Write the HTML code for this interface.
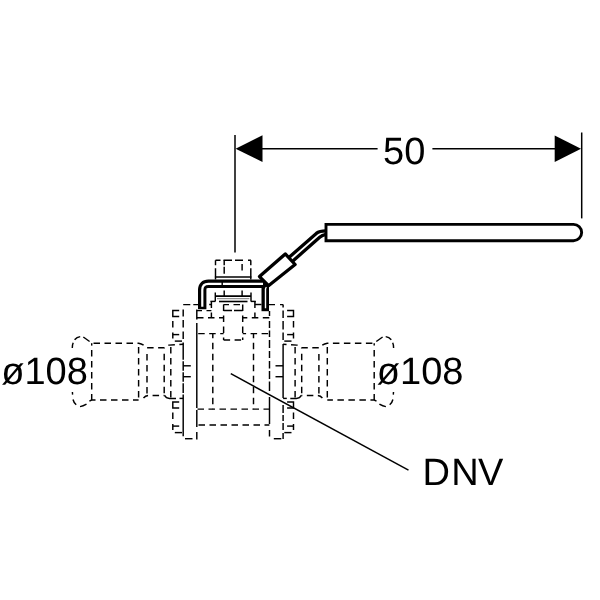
<!DOCTYPE html>
<html lang="en">
<head>
<meta charset="utf-8">
<title>DNV 50 ø108</title>
<style>
html,body{margin:0;padding:0;background:#fff;}
body{width:600px;height:600px;overflow:hidden;position:relative;font-family:"Liberation Sans",sans-serif;}
svg{position:absolute;left:0;top:0;display:block;will-change:transform;}
.d{stroke:#000;stroke-width:1.45;fill:none;stroke-dasharray:6.5 4.5;}
.s{stroke:#000;stroke-width:1.45;fill:none;}
.t{stroke:#000;stroke-width:1.5;fill:none;}
.h{stroke:#000;stroke-width:2.9;fill:#fff;stroke-linejoin:miter;}
text{font-family:"Liberation Sans",sans-serif;font-size:38px;fill:#000;text-rendering:geometricPrecision;}
</style>
</head>
<body>
<svg width="600" height="600" viewBox="0 0 600 600">
<rect x="0" y="0" width="600" height="600" fill="#fff"/>
<!-- dashed valve body -->
<path class="s" d="M72.3 348 Q72.2 345 73.2 342.8"/>
<path class="s" d="M74.6 339.8 Q76.8 337 80.2 336.6"/>
<path class="s" d="M83.3 337 L89.6 341.5"/>
<path class="s" d="M72.4 392 L72.6 394.6"/>
<path class="s" d="M73 399.5 Q73.8 402.8 76.2 404.8"/>
<path class="s" d="M80 406.6 Q83 406.4 86.5 404.2"/>
<path class="s" d="M89.4 401.2 L91.6 400 L95 400"/>
<path class="d" d="M91.6 343.2 L138.6 343.2 Q143.4 344 146.6 347.8 L164.4 347.8 Q166 345.6 169 345.1 L183.2 344.2" stroke-dashoffset="9.1"/>
<path class="d" d="M95 400 L138.6 400" stroke-dashoffset="6.0"/>
<path class="d" d="M143.5 398 Q145.5 395.6 148.5 395.5 L164.4 395.5" stroke-dashoffset="1.2"/>
<path class="s" d="M164.5 395.3 Q166 398.4 169.5 398.4 L176 398.4"/>
<line class="s" x1="179.5" y1="398.4" x2="183.2" y2="398.4"/>
<path class="s" d="M91.7 343.2 L91.7 345.6"/>
<line class="d" x1="91.7" y1="345.6" x2="91.7" y2="400" stroke-dashoffset="6.6"/>
<line class="d" x1="138.6" y1="343.2" x2="138.6" y2="398" stroke-dashoffset="7.2"/>
<line class="d" x1="147" y1="352" x2="147" y2="394" stroke-dashoffset="9.0"/>
<line class="d" x1="164.2" y1="352" x2="164.2" y2="394" stroke-dashoffset="9.2"/>
<line class="d" x1="170.8" y1="345" x2="170.8" y2="398.4" stroke-dashoffset="9.0"/>
<path class="s" d="M179.2 310.5 L172.8 310.5 L172.8 316.5 L179.2 316.5"/>
<path class="s" d="M172.8 321 L172.8 327.5 M172.8 332.5 L172.8 338.5"/>
<line class="s" x1="172.8" y1="334.6" x2="179.2" y2="334.6"/>
<line class="s" x1="174.8" y1="341.1" x2="182" y2="341.1"/>
<path class="s" d="M179.2 402.0 L172.8 402.0 L172.8 408.0 L179.2 408.0"/>
<path class="s" d="M172.8 412.5 L172.8 419.0 M172.8 424.0 L172.8 430.0"/>
<line class="s" x1="172.8" y1="426.1" x2="179.2" y2="426.1"/>
<line class="s" x1="174.8" y1="432.6" x2="182" y2="432.6"/>
<line class="s" x1="183.2" y1="365.8" x2="190.8" y2="365.8"/>
<line class="s" x1="183.2" y1="376.7" x2="190.8" y2="376.7"/>
<line class="s" x1="185" y1="438.7" x2="192.5" y2="438.7"/>
<line class="d" x1="211.4" y1="301.5" x2="211.4" y2="317.5" stroke-dashoffset="0.0"/>
<line class="d" x1="197" y1="310.6" x2="211.4" y2="310.6" stroke-dashoffset="1.5"/>
<line class="d" x1="197" y1="317.8" x2="223.6" y2="317.8" stroke-dashoffset="0.0"/>
<line class="d" x1="197" y1="333.6" x2="223.6" y2="333.6" stroke-dashoffset="9.8"/>
<line class="d" x1="223.6" y1="304.6" x2="223.6" y2="340" stroke-dashoffset="0.0"/>
<line class="d" x1="212.8" y1="333.6" x2="212.8" y2="409.2" stroke-dashoffset="1.9"/>
<line class="s" x1="209.2" y1="304.5" x2="211.4" y2="304.5"/>
<line class="s" x1="210.4" y1="301.4" x2="215.4" y2="301.4"/>
<path class="s" d="M215.5 260.3 L215.5 265.3 M215.5 268.3 L215.5 279.5"/>
<path class="s" d="M224.2 260.3 L224.2 265.3 M224.2 266.8 L224.2 273.8"/>
<line class="s" x1="215.3" y1="292.5" x2="215.3" y2="301.4"/>
<line class="s" x1="224.2" y1="290.5" x2="224.2" y2="296"/>
<path class="s" d="M393.6 348 Q393.7 345 392.7 342.8"/>
<path class="s" d="M391.3 339.8 Q389.1 337 385.7 336.6"/>
<path class="s" d="M382.6 337 L376.3 341.5"/>
<path class="s" d="M393.5 392 L393.3 394.6"/>
<path class="s" d="M392.9 399.5 Q392.1 402.8 389.7 404.8"/>
<path class="s" d="M385.9 406.6 Q382.9 406.4 379.4 404.2"/>
<path class="s" d="M376.5 401.2 L374.3 400 L370.9 400"/>
<path class="d" d="M374.3 343.2 L327.3 343.2 Q322.5 344 319.3 347.8 L301.5 347.8 Q299.9 345.6 296.9 345.1 L283.1 344.2" stroke-dashoffset="9.1"/>
<path class="d" d="M370.9 400 L327.3 400" stroke-dashoffset="6.0"/>
<path class="d" d="M322.4 398 Q320.4 395.6 317.4 395.5 L301.5 395.5" stroke-dashoffset="1.2"/>
<path class="s" d="M301.4 395.3 Q299.9 398.4 296.4 398.4 L290.3 398.4"/>
<line class="s" x1="286.8" y1="398.4" x2="283.1" y2="398.4"/>
<path class="s" d="M374.2 343.2 L374.2 345.6"/>
<line class="d" x1="374.2" y1="345.6" x2="374.2" y2="400" stroke-dashoffset="6.6"/>
<line class="d" x1="327.3" y1="343.2" x2="327.3" y2="398" stroke-dashoffset="7.2"/>
<line class="d" x1="318.9" y1="352" x2="318.9" y2="394" stroke-dashoffset="9.0"/>
<line class="d" x1="301.7" y1="352" x2="301.7" y2="394" stroke-dashoffset="9.2"/>
<line class="d" x1="295.1" y1="345" x2="295.1" y2="398.4" stroke-dashoffset="9.0"/>
<path class="s" d="M287.1 310.5 L293.5 310.5 L293.5 316.5 L287.1 316.5"/>
<path class="s" d="M293.5 321 L293.5 327.5 M293.5 332.5 L293.5 338.5"/>
<line class="s" x1="293.5" y1="334.6" x2="287.1" y2="334.6"/>
<line class="s" x1="291.5" y1="341.1" x2="284.3" y2="341.1"/>
<path class="s" d="M287.1 402.0 L293.5 402.0 L293.5 408.0 L287.1 408.0"/>
<path class="s" d="M293.5 412.5 L293.5 419.0 M293.5 424.0 L293.5 430.0"/>
<line class="s" x1="293.5" y1="426.1" x2="287.1" y2="426.1"/>
<line class="s" x1="291.5" y1="432.6" x2="284.3" y2="432.6"/>
<line class="s" x1="283.1" y1="365.8" x2="275.5" y2="365.8"/>
<line class="s" x1="283.1" y1="376.7" x2="275.5" y2="376.7"/>
<line class="s" x1="281.3" y1="438.7" x2="273.8" y2="438.7"/>
<line class="d" x1="254.9" y1="301.5" x2="254.9" y2="317.5" stroke-dashoffset="0.0"/>
<line class="d" x1="269.3" y1="317.8" x2="242.7" y2="317.8" stroke-dashoffset="0.0"/>
<line class="d" x1="269.3" y1="333.6" x2="242.7" y2="333.6" stroke-dashoffset="9.8"/>
<line class="d" x1="242.7" y1="304.6" x2="242.7" y2="340" stroke-dashoffset="0.0"/>
<line class="d" x1="253.5" y1="333.6" x2="253.5" y2="409.2" stroke-dashoffset="1.9"/>
<line class="s" x1="254.9" y1="304.5" x2="261.5" y2="304.5"/>
<line class="s" x1="255.9" y1="301.4" x2="250.9" y2="301.4"/>
<path class="s" d="M250.8 260.3 L250.8 265.3 M250.8 268.3 L250.8 279.5"/>
<path class="s" d="M242.1 264 L242.1 270.6"/>
<line class="s" x1="251.0" y1="292.5" x2="251.0" y2="301.4"/>
<line class="s" x1="242.1" y1="290.5" x2="242.1" y2="296"/>
<path class="s" d="M183.2 309.5V316.5 M183.2 320V327.5 M183.2 331.5V339 M183.2 342.5V359.7 M183.2 361.3V370.7 M183.2 372.3V381.7 M183.2 383.3V392.9 M183.2 394.5V436.2"/>
<path class="s" d="M183.2 304.6H190.3 M193.3 304.6H198"/>
<path class="s" d="M196.8 309.5V319.5 M196.8 323V408 M196.8 410V427 M196.8 432V439.4"/>
<path class="s" d="M269.5 311V316 M269.5 321V328 M269.5 330.5V337 M269.5 340V348 M269.5 351V358 M269.5 361V368.5 M269.5 371V379 M269.5 381.5V391 M269.5 397V424 M269.5 430V436.5"/>
<path class="s" d="M283.1 304.6V307.5 M283.1 310.5V318 M283.1 321V329.5 M283.1 332.5V340 M283.1 344V398 M283.1 405V413 M283.1 415V421 M283.1 423V430 M283.1 433V439"/>
<path class="s" d="M268.5 304.6H275 M280 304.6H283.1"/>
<path class="s" d="M215.5 260.3H220.5 M223.5 260.3H232 M235 260.3H243 M248 260.3H251"/>
<line class="s" x1="214.9" y1="277" x2="251.4" y2="277"/>
<line class="s" x1="215.3" y1="296.1" x2="251" y2="296.1" style="stroke-width:1.6"/>
<line class="s" x1="217" y1="298.7" x2="249.3" y2="298.7" style="stroke-width:0.8;stroke:#555"/>
<line class="s" x1="219" y1="301.5" x2="247.5" y2="301.5" style="stroke-width:1.6"/>
<path class="s" d="M223.6 304.6H229 M233.5 304.6H240"/>
<path class="s" d="M223.6 310.5H232 M234 310.5H242.7"/>
<line class="d" x1="223.6" y1="340" x2="242.7" y2="340" stroke-dashoffset="0.0"/>
<line class="d" x1="197" y1="409.1" x2="269.4" y2="409.1" stroke-dashoffset="10.5"/>
<line class="d" x1="197" y1="425" x2="269.4" y2="425" stroke-dashoffset="9.5"/>
<!-- labels -->
<text x="1.2" y="383.8">ø108</text>
<text x="376.8" y="383.8">ø108</text>
<text x="422.4 451.3 478.1" y="485">DNV</text>
<text x="383" y="164">50</text>
<!-- leader -->
<line class="t" x1="230.8" y1="373.7" x2="408.5" y2="470.1"/>
<!-- dimension -->
<line class="t" x1="235" y1="135" x2="235" y2="252.5"/>
<line class="t" x1="581.7" y1="132.5" x2="581.7" y2="218.4"/>
<line class="t" x1="260" y1="148.7" x2="377.6" y2="148.7"/>
<line class="t" x1="432.4" y1="148.7" x2="556" y2="148.7"/>
<polygon points="235.6,148.7 262.5,135.3 262.5,162" fill="#000"/>
<polygon points="581,148.7 554.7,135.4 554.7,162" fill="#000"/>
<!-- handle -->
<path d="M288.3 258 L316.3 233.4 Q319.5 230.9 326 230.9" fill="none" stroke="#000" stroke-width="3.3"/>
<path d="M291.8 261.9 L319.7 237.3 Q322 235.2 326 234.4" fill="none" stroke="#000" stroke-width="3.3"/>
<path class="h" d="M326 224.4 H573.5 A8.15 8.15 0 0 1 573.5 240.7 H326 Z"/>
<path d="M202.2 309.3 V290 Q202.2 283.8 208.4 283.8 H266" fill="none" stroke="#000" stroke-width="8.4"/>
<path d="M265.25 311.2 V284" fill="none" stroke="#000" stroke-width="7.5"/>
<path d="M202.3 306.8 V290 Q202.3 283.9 208.4 283.9 H263" fill="none" stroke="#fff" stroke-width="2.2"/>
<path d="M265.5 308.3 V289 Q265.6 288 266.5 287.3" fill="none" stroke="#fff" stroke-width="1.4"/>
<line class="s" x1="222.2" y1="281.5" x2="222.2" y2="286.5"/>
<polygon class="h" points="285.3,253.9 295.1,264.5 268.5,285.7 259.5,276.6" style="stroke-width:3.3;stroke-linejoin:round"/>
</svg>
</body>
</html>
